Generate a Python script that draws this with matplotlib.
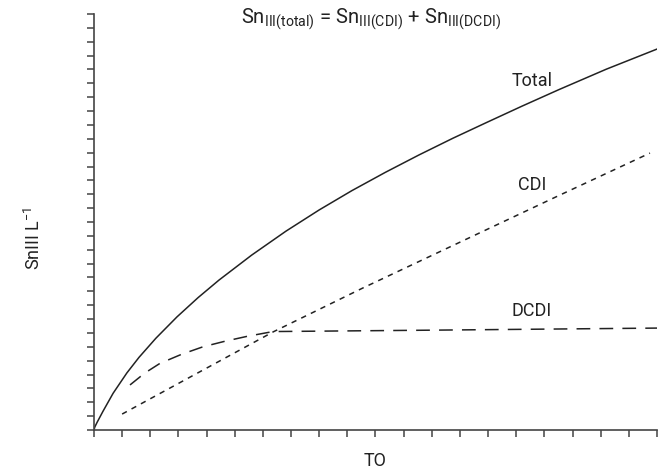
import matplotlib.pyplot as plt

plt.rcParams['font.family'] = ['Roboto', 'DejaVu Sans']
plt.rcParams['mathtext.default'] = 'regular'

# values (arbitrary units, x 0..20, y 0..30)
total_x = [0, 0.03, 0.11, 0.32, 0.68, 1.17, 1.6, 2.2, 2.95, 3.7, 4.44, 5.6, 6.82, 8.0,
           9.16, 10.35, 11.55, 12.75, 13.93, 15.2, 16.52, 18.2, 20.0]
total_y = [0, 0.22, 0.55, 1.35, 2.65, 4.12, 5.24, 6.62, 8.16, 9.55, 10.81, 12.61, 14.34,
           15.87, 17.26, 18.58, 19.84, 21.04, 22.16, 23.35, 24.55, 26.02, 27.47]

cdi_x = [1.0, 6.36, 9.55, 16.4, 19.75]
cdi_y = [1.15, 7.07, 10.24, 16.8, 19.97]

dcdi_x = [1.28, 1.8, 2.34, 3.1, 3.87, 4.65, 5.43, 6.36, 12.0, 20.0]
dcdi_y = [3.25, 4.1, 4.8, 5.45, 6.0, 6.4, 6.75, 7.1, 7.2, 7.35]

fig = plt.figure(figsize=(6.66, 4.74), dpi=100)
ax = fig.add_axes([0.1411, 0.0928, 0.8454, 0.8777])

col = '#222222'
ax.plot(total_x, total_y, color=col, lw=1.1)
ax.plot(cdi_x, cdi_y, color=col, lw=1.1, linestyle=(0, (3.5, 3.5)))
ax.plot(dcdi_x, dcdi_y, color=col, lw=1.1, linestyle=(0, (9, 6)))

ax.set_xlim(0, 20)
ax.set_ylim(0, 30)
ax.set_xticks(range(0, 21))
ax.set_yticks(range(0, 31))
ax.set_xticklabels([])
ax.set_yticklabels([])
ax.tick_params(direction='out', length=5, width=1.1, color='#444444')
for s in ['top', 'right']:
    ax.spines[s].set_visible(False)
for s in ['left', 'bottom']:
    ax.spines[s].set_color('#444444')
    ax.spines[s].set_linewidth(1.2)

fs = 13
ax.text(15.55, 25.2, 'Total', fontsize=fs, color=col, ha='center', va='center')
ax.text(15.55, 17.7, 'CDI', fontsize=fs, color=col, ha='center', va='center')
ax.text(15.55, 8.6, 'DCDI', fontsize=fs, color=col, ha='center', va='center')

fig.text(371 / 666, 1 - 19 / 474,
         r'Sn$_{III(total)}$ = Sn$_{III(CDI)}$ + Sn$_{III(DCDI)}$',
         fontsize=14.5, color=col, ha='center', va='center')
fig.text(375 / 666, 1 - 461 / 474, 'TO', fontsize=fs, color=col, ha='center', va='center')
fig.text(34 / 666, 1 - 238 / 474, 'SnIII L$^{-1}$', fontsize=fs, color=col,
         ha='center', va='center', rotation=90)

fig.savefig('out.png', dpi=100)
